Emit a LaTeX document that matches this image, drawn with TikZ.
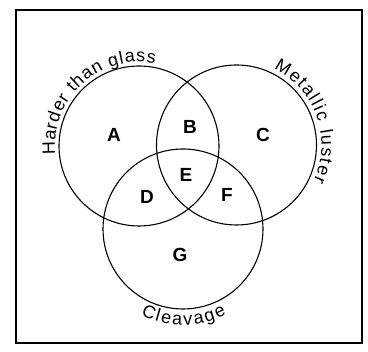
\documentclass[tikz,border=0pt]{standalone}
\usepackage{fontspec}
\setmainfont{Liberation Sans}
\usetikzlibrary{decorations.text,calc}
\begin{document}
\begin{tikzpicture}[x=1pt,y=1pt,
  setcircle/.style={circle,draw,line width=1.1pt,minimum size=160pt,inner sep=0pt},
  region/.style={font=\fontsize{19}{22}\selectfont\bfseries},
  arclabel/.style={decorate,decoration={text along path,text align={fit to path},text={#1}}}
]
\useasboundingbox (0,0) rectangle (368,352);
\draw[line width=1.3pt] (16,9) rectangle (362,342);
\node[setcircle] (ca) at (139,206) {};
\node[setcircle] (cc) at (236.5,207) {};
\node[setcircle] (cg) at (183,123) {};
\node[region] (la) at (114,217) {A};
\node[region] (lb) at (190,225) {B};
\node[region] (lc) at (263,217) {C};
\node[region] (le) at (186,177) {E};
\node[region] (ld) at (147,155) {D};
\node[region] (lf) at (227,157) {F};
\node[region] (lg) at (180,97) {G};
\path[arclabel={|\fontsize{18}{21}\selectfont|Harder than glass}]
  ($(ca)+(186:84)$) arc[start angle=186,end angle=79,radius=84];
\path[arclabel={|\fontsize{18}{21}\selectfont|Metallic luster}]
  ($(cc)+(64:85)$) arc[start angle=64,end angle=-25,radius=85];
\path[arclabel={|\fontsize{18}{21}\selectfont|Cleavage}]
  ($(cg)+(244:96)$) arc[start angle=244,end angle=297,radius=96];
\end{tikzpicture}
\end{document}
